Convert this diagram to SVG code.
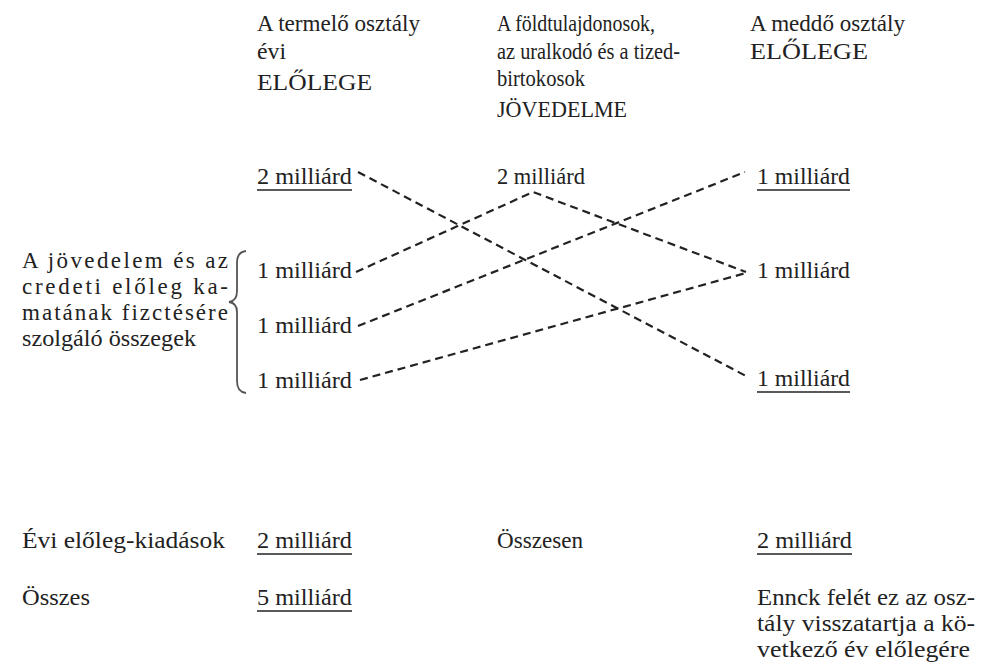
<svg xmlns="http://www.w3.org/2000/svg" width="1000" height="671" viewBox="0 0 1000 671">
<style>
text{font-family:"Liberation Serif","DejaVu Serif",serif;font-size:23px;fill:#222}
.ul{stroke:#222;stroke-width:1.6}
.d{fill:none;stroke:#222;stroke-width:2.2;stroke-dasharray:8 5}
.br{fill:none;stroke:#555;stroke-width:1.8}
</style>
<rect width="1000" height="671" fill="#fff"/>
<g id="header-col1">
<text x="257" y="31" textLength="163" lengthAdjust="spacingAndGlyphs">A termelő osztály</text>
<text x="257" y="59" textLength="29" lengthAdjust="spacingAndGlyphs">évi</text>
<text x="257" y="90" textLength="115" lengthAdjust="spacingAndGlyphs">ELŐLEGE</text>
</g>
<g id="header-col2">
<text x="497" y="31" textLength="158" lengthAdjust="spacingAndGlyphs">A földtulajdonosok,</text>
<text x="497" y="59" textLength="183" lengthAdjust="spacingAndGlyphs">az uralkodó és a tized-</text>
<text x="497" y="86" textLength="88" lengthAdjust="spacingAndGlyphs">birtokosok</text>
<text x="497" y="117" textLength="130" lengthAdjust="spacingAndGlyphs">JÖVEDELME</text>
</g>
<g id="header-col3">
<text x="750" y="31" textLength="155" lengthAdjust="spacingAndGlyphs">A meddő osztály</text>
<text x="750" y="59" textLength="118" lengthAdjust="spacingAndGlyphs">ELŐLEGE</text>
</g>
<g id="col1-top">
<text x="257" y="184" textLength="95" lengthAdjust="spacingAndGlyphs">2 milliárd</text>
<line class="ul" x1="257" y1="190" x2="352" y2="190"/>
</g>
<g id="col2-top">
<text x="497" y="184" textLength="88" lengthAdjust="spacingAndGlyphs">2 milliárd</text>
</g>
<g id="col3-top">
<text x="757" y="184" textLength="93" lengthAdjust="spacingAndGlyphs">1 milliárd</text>
<line class="ul" x1="757" y1="190" x2="850" y2="190"/>
</g>
<g id="col1-r1"><text x="257" y="278" textLength="95" lengthAdjust="spacingAndGlyphs">1 milliárd</text></g>
<g id="col1-r2"><text x="257" y="333" textLength="95" lengthAdjust="spacingAndGlyphs">1 milliárd</text></g>
<g id="col1-r3"><text x="257" y="388" textLength="95" lengthAdjust="spacingAndGlyphs">1 milliárd</text></g>
<g id="col3-mid"><text x="757" y="278" textLength="93" lengthAdjust="spacingAndGlyphs">1 milliárd</text></g>
<g id="col3-bottom">
<text x="757" y="386" textLength="93" lengthAdjust="spacingAndGlyphs">1 milliárd</text>
<line class="ul" x1="757" y1="392" x2="850" y2="392"/>
</g>
<g id="left-label">
<text x="22" y="268" textLength="206" lengthAdjust="spacing">A jövedelem és az</text>
<text x="22" y="294" textLength="206" lengthAdjust="spacing">credeti előleg ka-</text>
<text x="22" y="320" textLength="206" lengthAdjust="spacing">matának fizctésére</text>
<text x="22" y="346" textLength="174" lengthAdjust="spacingAndGlyphs">szolgáló összegek</text>
<path class="br" d="M246 251 Q237 252 237 263 L237 291 Q237 301 229 302 Q237 303 237 312 L237 381 Q237 392 246 393"/>
</g>
<g id="connectors">
<line class="d" x1="358" y1="172" x2="746" y2="376"/>
<polyline class="d" points="356,272 533,192 746,272"/>
<line class="d" x1="358" y1="326" x2="745" y2="172"/>
<line class="d" x1="360" y1="380" x2="746" y2="273"/>
</g>
<g id="row-kiadasok">
<text x="22" y="548" textLength="203" lengthAdjust="spacingAndGlyphs">Évi előleg-kiadások</text>
<text x="257" y="548" textLength="95" lengthAdjust="spacingAndGlyphs">2 milliárd</text>
<line class="ul" x1="257" y1="554" x2="352" y2="554"/>
<text x="497" y="548" textLength="86" lengthAdjust="spacingAndGlyphs">Összesen</text>
<text x="757" y="548" textLength="95" lengthAdjust="spacingAndGlyphs">2 milliárd</text>
<line class="ul" x1="757" y1="554" x2="852" y2="554"/>
</g>
<g id="row-osszes">
<text x="22" y="605" textLength="68" lengthAdjust="spacingAndGlyphs">Összes</text>
<text x="257" y="605" textLength="95" lengthAdjust="spacingAndGlyphs">5 milliárd</text>
<line class="ul" x1="257" y1="611" x2="352" y2="611"/>
</g>
<g id="note">
<text x="757" y="605" textLength="218" lengthAdjust="spacingAndGlyphs">Ennck felét ez az osz-</text>
<text x="757" y="631" textLength="218" lengthAdjust="spacingAndGlyphs">tály visszatartja a kö-</text>
<text x="757" y="657" textLength="213" lengthAdjust="spacingAndGlyphs">vetkező év előlegére</text>
</g>
</svg>
